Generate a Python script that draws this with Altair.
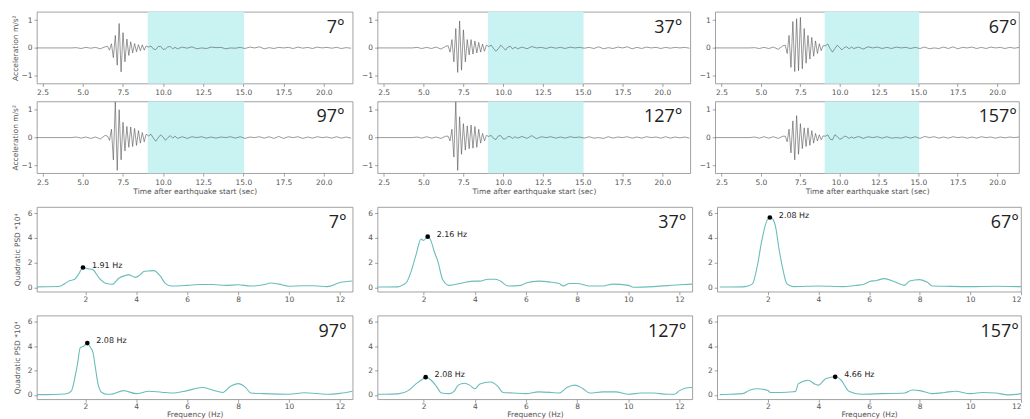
import altair as alt
import pandas as pd

# ---------------- seismogram data (time in s, acceleration in m/s^2) ----------------
T_PRE = [2.1, 4.3, 4.6, 4.9, 5.2, 5.5, 5.8, 6.1, 6.4]
T_BURST = [6.55, 6.67, 6.79, 6.91, 7.03, 7.15, 7.27, 7.39, 7.51, 7.63, 7.75, 7.87,
           7.99, 8.11, 8.23, 8.35, 8.47, 8.59, 8.71, 8.83, 8.95]
T_MID = [9.1, 9.25, 9.4, 9.55, 9.7, 9.85, 10.0, 10.15, 10.3, 10.45, 10.6, 10.75, 10.9]
T_TAIL = [11.2, 11.5, 11.8, 12.1, 12.4, 12.7, 13.0, 13.3, 13.6, 13.9, 14.2, 14.5,
          14.8, 15.1, 15.4, 15.7, 16.0, 16.3, 16.6, 16.9, 17.2, 17.5, 17.8, 18.1,
          18.4, 18.7, 19.0, 19.3, 19.6, 19.9, 20.2, 20.5, 20.8, 21.1, 21.4, 21.7]
TIME = T_PRE + T_BURST + T_MID + T_TAIL

ACC_7 = ([0, 0, 0.01, -0.02, 0.02, -0.01, 0.02, -0.03, 0.04]
         + [0.06, -0.08, 0.15, -0.35, 0.45, -0.62, 0.88, -0.86, 0.55, -0.5, 0.32, -0.27,
            0.22, -0.18, 0.16, -0.14, 0.12, -0.1, 0.11, -0.08, 0.07]
         + [0.03, 0.07, -0.04, -0.06, 0.05, 0.06, -0.05, -0.04, 0.04, 0.05, -0.03, 0.02, -0.03]
         + [0.03, -0.01, 0.04, -0.03, 0.0, -0.02, 0.03, 0.01, 0.02, -0.03, 0.0, -0.01,
            0.02, -0.02, 0.03, 0.0, 0.04, -0.03, 0.01, -0.02, 0.02, 0.0, 0.02, -0.02,
            0.03, -0.01, 0.02, -0.02, 0.03, 0.0, 0.02, -0.01, 0.02, -0.02, 0.01, -0.01])
ACC_37 = ([0, 0, 0.02, -0.02, 0.02, -0.02, 0.03, -0.04, 0.06]
          + [0.08, -0.15, 0.3, -0.5, 0.7, -0.88, 0.97, -0.8, 0.65, -0.5, 0.3, -0.25,
             0.3, -0.22, 0.25, -0.18, 0.2, -0.15, 0.14, -0.12, 0.1]
          + [0.05, 0.1, -0.02, -0.12, -0.03, 0.1, 0.02, -0.08, 0.03, 0.06, -0.04, 0.03, -0.03]
          + [0.03, -0.03, 0.05, 0.0, 0.02, -0.02, 0.03, -0.01, 0.02, -0.02, 0.03, 0.0,
             0.02, -0.01, 0.02, -0.02, 0.04, -0.03, 0.01, -0.02, 0.03, 0.0, 0.04, -0.03,
             0.02, -0.02, 0.03, 0.0, 0.02, -0.02, 0.02, -0.01, 0.02, 0.0, 0.02, -0.01])
ACC_67 = ([0, 0, 0.01, -0.02, 0.02, -0.02, 0.03, -0.05, 0.08]
          + [0.1, -0.2, 0.45, -0.7, 0.95, -0.85, 1.05, -0.82, 1.1, -0.75, 0.7, -0.55,
             0.45, -0.4, 0.38, -0.3, 0.25, -0.2, 0.15, -0.1, 0.08]
          + [0.08, 0.14, -0.03, -0.15, -0.02, 0.1, 0.01, -0.07, 0.02, 0.04, -0.03, 0.03, -0.02]
          + [0.03, -0.04, 0.04, 0.0, 0.03, -0.02, 0.02, -0.02, 0.03, 0.0, 0.02, -0.02,
             0.02, -0.02, 0.03, -0.03, 0.0, -0.02, 0.03, -0.02, 0.04, -0.03, 0.02, 0.0,
             0.03, -0.02, 0.02, -0.02, 0.03, 0.0, 0.02, -0.02, 0.02, -0.01, 0.02, -0.02])
ACC_97 = ([0, 0, 0.02, -0.02, 0.02, -0.03, 0.02, -0.05, 0.08]
          + [0.05, -0.1, 0.3, -0.8, 1.28, -1.18, 1.0, -0.8, 0.55, -0.48, 0.4, -0.35,
             0.38, -0.32, 0.33, -0.28, 0.25, -0.2, 0.18, -0.15, 0.12]
          + [0.06, 0.12, -0.02, -0.13, -0.01, 0.1, 0.02, -0.1, 0.0, 0.07, -0.02, 0.05, -0.03]
          + [0.03, -0.03, 0.03, 0.0, 0.03, -0.02, 0.02, -0.02, 0.02, 0.0, 0.03, -0.02,
             0.03, -0.03, 0.02, 0.0, 0.03, -0.02, 0.03, -0.03, 0.04, -0.03, 0.03, 0.0,
             0.03, -0.03, 0.02, -0.02, 0.03, 0.0, 0.02, -0.02, 0.03, -0.02, 0.02, -0.02])
ACC_127 = ([0, 0, 0.02, -0.02, 0.03, -0.02, 0.02, -0.03, 0.05]
           + [0.05, -0.12, 0.3, -0.7, 1.28, -1.18, 0.75, -0.6, 0.5, -0.45, 0.42, -0.4,
              0.45, -0.38, 0.4, -0.35, 0.3, -0.2, 0.15, -0.12, 0.08]
           + [0.04, 0.08, -0.03, -0.07, 0.06, 0.07, -0.05, -0.05, 0.04, 0.03, -0.03, 0.03, -0.02]
           + [0.04, -0.03, 0.07, -0.04, 0.03, 0.0, 0.03, -0.02, 0.02, -0.02, 0.03, 0.0,
              0.02, -0.02, 0.03, -0.02, 0.0, -0.03, 0.03, -0.02, 0.02, 0.0, 0.03, -0.02,
              0.02, -0.02, 0.03, 0.0, 0.02, -0.02, 0.03, -0.02, 0.02, -0.01, 0.02, -0.02])
ACC_157 = ([0, 0, 0.02, -0.02, 0.03, -0.02, 0.03, -0.03, 0.05]
           + [0.05, -0.15, 0.3, -0.55, 0.6, -0.8, 0.79, -0.6, 0.5, -0.4, 0.35, -0.32,
              0.35, -0.28, 0.25, -0.2, 0.15, -0.12, 0.1, -0.08, 0.06]
           + [0.05, 0.1, -0.06, -0.08, 0.1, 0.04, -0.06, -0.03, 0.05, 0.03, -0.03, 0.02, -0.02]
           + [0.04, -0.03, 0.03, 0.0, 0.03, -0.02, 0.03, -0.02, 0.0, -0.02, 0.03, -0.02,
              0.03, -0.03, 0.04, 0.0, 0.03, -0.02, 0.02, -0.02, 0.03, 0.0, 0.02, -0.02,
              0.02, -0.02, 0.03, 0.0, 0.02, -0.02, 0.02, -0.01, 0.02, 0.0, 0.02, -0.02])

SHADE_START = [9.05]
SHADE_END = [15.05]

# ---------------- PSD data (frequency in Hz, PSD *10^4) ----------------
F_7 = [0.1, 0.5, 1.0, 1.2, 1.38, 1.57, 1.75, 1.91, 2.1, 2.28, 2.55, 2.8, 3.06, 3.32, 3.5,
       3.71, 3.97, 4.15, 4.3, 4.5, 4.69, 4.95, 5.14, 5.4, 6.0, 6.5, 7.0, 7.5, 8.0, 8.5,
       9.0, 9.3, 9.6, 10.0, 10.5, 11.0, 11.5, 12.0, 12.5]
P_7 = [0.03, 0.04, 0.08, 0.3, 0.53, 0.62, 1.1, 1.6, 1.5, 1.45, 0.73, 0.32, 0.24, 0.73, 0.9,
       1.0, 0.8, 1.0, 1.27, 1.32, 1.35, 0.9, 0.32, 0.1, 0.15, 0.22, 0.22, 0.15, 0.2, 0.1,
       0.2, 0.35, 0.25, 0.08, 0.12, 0.12, 0.05, 0.38, 0.5]
F_37 = [0.1, 0.5, 1.0, 1.2, 1.35, 1.5, 1.7, 1.9, 2.0, 2.16, 2.3, 2.4, 2.56, 2.75, 3.0,
        3.5, 4.0, 4.2, 4.5, 4.8, 5.0, 5.3, 5.8, 6.0, 6.5, 7.0, 7.3, 7.45, 7.7, 8.0,
        8.5, 9.0, 9.4, 10.0, 10.2, 11.0, 12.0, 12.5]
P_37 = [0.02, 0.02, 0.03, 0.2, 0.45, 1.2, 2.6, 3.9, 3.8, 4.1, 3.7, 3.0, 2.08, 0.6, 0.15,
        0.35, 0.5, 0.5, 0.65, 0.65, 0.5, 0.1, 0.15, 0.35, 0.5, 0.4, 0.3, 0.1, 0.3, 0.3,
        0.1, 0.1, 0.25, 0.15, 0.0, 0.05, 0.2, 0.25]
F_67 = [0.1, 0.5, 1.0, 1.2, 1.4, 1.6, 1.75, 1.91, 2.08, 2.2, 2.3, 2.45, 2.6, 2.75, 3.0,
        4.0, 5.0, 5.5, 5.8, 6.0, 6.3, 6.6, 7.0, 7.4, 7.6, 8.0, 8.3, 8.5, 9.0, 10.0,
        11.0, 12.0, 12.5]
P_67 = [0.02, 0.02, 0.03, 0.1, 0.3, 1.9, 3.65, 5.1, 5.65, 5.5, 4.95, 3.0, 1.4, 0.3, 0.05,
        0.1, 0.05, 0.15, 0.25, 0.45, 0.55, 0.7, 0.45, 0.15, 0.5, 0.62, 0.4, 0.1, 0.08, 0.05,
        0.08, 0.05, 0.1]
F_97 = [0.1, 0.5, 1.0, 1.3, 1.45, 1.6, 1.7, 1.8, 1.95, 2.08, 2.2, 2.3, 2.4, 2.5, 2.65,
        2.85, 3.0, 3.5, 4.0, 4.5, 5.0, 5.5, 6.0, 6.6, 7.0, 7.4, 7.7, 8.0, 8.3, 8.5,
        9.0, 10.0, 10.6, 11.5, 12.0, 12.5]
P_97 = [0.02, 0.02, 0.05, 0.12, 0.3, 1.5, 2.6, 3.85, 4.0, 4.25, 3.9, 3.5, 2.2, 0.9, 0.2,
        0.05, 0.05, 0.35, 0.1, 0.3, 0.22, 0.15, 0.35, 0.6, 0.4, 0.2, 0.7, 0.92, 0.6, 0.15,
        0.1, 0.05, 0.18, 0.05, 0.12, 0.3]
F_127 = [0.1, 0.5, 1.0, 1.4, 1.7, 2.0, 2.08, 2.3, 2.5, 2.7, 3.0, 3.2, 3.35, 3.6, 3.8,
         4.0, 4.2, 4.6, 4.9, 5.1, 5.5, 6.0, 6.5, 7.0, 7.3, 7.6, 7.9, 8.2, 8.5, 9.0,
         9.5, 10.0, 10.5, 11.0, 11.5, 11.8, 12.0, 12.4, 12.5]
P_127 = [0.05, 0.05, 0.08, 0.35, 0.9, 1.35, 1.45, 1.2, 0.7, 0.15, 0.1, 0.3, 0.8, 0.95, 0.8,
         0.5, 0.9, 1.05, 0.7, 0.2, 0.15, 0.1, 0.25, 0.2, 0.15, 0.6, 0.8, 0.55, 0.15, 0.25,
         0.25, 0.05, 0.15, 0.15, 0.05, 0.05, 0.35, 0.6, 0.6]
F_157 = [0.1, 0.5, 1.0, 1.3, 1.6, 2.0, 2.1, 2.5, 3.0, 3.1, 3.2, 3.6, 3.85, 4.0, 4.3,
         4.66, 4.9, 5.2, 5.7, 6.5, 7.4, 7.7, 8.0, 8.5, 9.0, 9.4, 10.0, 10.5, 11.0, 11.5,
         12.0, 12.5]
P_157 = [0.02, 0.05, 0.1, 0.4, 0.5, 0.35, 0.2, 0.2, 0.25, 0.3, 0.9, 1.2, 0.9, 0.8, 1.35,
         1.48, 1.2, 0.3, 0.05, 0.1, 0.15, 0.4, 0.35, 0.1, 0.2, 0.3, 0.1, 0.2, 0.15, 0.0,
         0.1, 0.6]

ANGLES = ["7°", "37°", "67°", "97°", "127°", "157°"]
PEAK_F = [1.91, 2.16, 2.08, 2.08, 2.08, 4.66]
PEAK_P = [1.6, 4.1, 5.65, 4.25, 1.45, 1.48]
PEAK_LABELS = ["1.91 Hz", "2.16 Hz", "2.08 Hz", "2.08 Hz", "2.08 Hz", "4.66 Hz"]

T_TICKS = [2.5, 5.0, 7.5, 10.0, 12.5, 15.0, 17.5, 20.0]
A_TICKS = [-1, 0, 1]
F_TICKS = [2, 4, 6, 8, 10, 12]
P_TICKS = [0, 2, 4, 6]

# visible axis ranges of the three columns
T_DOMAINS = [[2.15, 21.8], [2.12, 21.75], [2.1, 21.39]]
F_DOMAINS = [[0.1, 12.5], [0.2, 12.5], [0.0, 12.0]]

for a in [ACC_7, ACC_37, ACC_67, ACC_97, ACC_127, ACC_157]:
    assert len(a) == len(TIME), len(a)
for f, p in [(F_7, P_7), (F_37, P_37), (F_67, P_67), (F_97, P_97), (F_127, P_127), (F_157, P_157)]:
    assert len(f) == len(p), (len(f), len(p))

SHADE_COLOR = "#c9f3f3"
SEIS_COLOR = "#555555"
PSD_COLOR = "#6cbcbc"
ANGLE_FONT = "Open Sans"

SEIS_W = [317, 314, 305]
PSD_W = [317, 316, 305]
GAP = 25


def angle_layer(label, width, inset):
    return alt.Chart(pd.DataFrame({"lab": [label]})).mark_text(
        align="right", baseline="alphabetic", fontSize=18, font=ANGLE_FONT,
        fontWeight="normal", color="#222222"
    ).encode(x=alt.value(width - inset), y=alt.value(21), text="lab:N")


def seis_panel(idx, acc, col, ytitle, xtitle):
    width = SEIS_W[col]
    df = pd.DataFrame({"t": TIME, "a": acc})
    xs = alt.Scale(domain=T_DOMAINS[col], nice=False, zero=False)
    ys = alt.Scale(domain=[-1.28, 1.3], nice=False, zero=False)
    xaxis = alt.Axis(values=T_TICKS, format=".1f", title=xtitle, labelFlush=False,
                     minExtent=14, maxExtent=14, titlePadding=0)
    yaxis = alt.Axis(values=A_TICKS, format="d", title=ytitle, labelFlush=False,
                     minExtent=16, maxExtent=16, titlePadding=1)
    shade = alt.Chart(pd.DataFrame({"s": SHADE_START, "e": SHADE_END})).mark_rect(
        color=SHADE_COLOR
    ).encode(x=alt.X("s:Q", scale=xs, axis=xaxis), x2="e:Q")
    line = alt.Chart(df).mark_line(color=SEIS_COLOR, strokeWidth=0.6, clip=True).encode(
        x=alt.X("t:Q", scale=xs, axis=xaxis),
        y=alt.Y("a:Q", scale=ys, axis=yaxis),
    )
    inset = 2 if col == 2 else 8
    return alt.layer(shade, line, angle_layer(ANGLES[idx], width, inset)).properties(
        width=width, height=72)


def psd_panel(idx, f, p, col, height, ytitle, xtitle):
    width = PSD_W[col]
    df = pd.DataFrame({"f": f, "p": p})
    pk = pd.DataFrame({"f": [PEAK_F[idx]], "p": [PEAK_P[idx]], "lab": [PEAK_LABELS[idx]]})
    xs = alt.Scale(domain=F_DOMAINS[col], nice=False, zero=False)
    ys = alt.Scale(domain=[-0.36, 6.5], nice=False, zero=False)
    xaxis = alt.Axis(values=F_TICKS, format="d", title=xtitle, labelFlush=(col == 2),
                     labelPadding=0.5, minExtent=11, maxExtent=11, titlePadding=0)
    yaxis = alt.Axis(values=P_TICKS, format="d", title=ytitle, labelFlush=False,
                     minExtent=10, maxExtent=10, titlePadding=5)
    enc = dict(x=alt.X("f:Q", scale=xs, axis=xaxis), y=alt.Y("p:Q", scale=ys, axis=yaxis))
    line = alt.Chart(df).mark_line(color=PSD_COLOR, strokeWidth=1.1, interpolate="monotone",
                                   clip=True).encode(**enc)
    dot = alt.Chart(pk).mark_circle(size=22, color="black", opacity=1).encode(**enc)
    txt = alt.Chart(pk).mark_text(align="left", baseline="middle", dx=9, dy=-2, fontSize=8,
                                  font="DejaVu Sans", color="#222222").encode(text="lab:N", **enc)
    inset = 2 if col == 2 else 6
    return alt.layer(line, dot, txt, angle_layer(ANGLES[idx], width, inset)).properties(
        width=width, height=height)


ACC_T = "Acceleration m/s²"
PSD_T = "Quadratic PSD *10⁴"
TIME_T = "Time after earthquake start (sec)"
FREQ_T = "Frequency (Hz)"

row1 = alt.hconcat(
    seis_panel(0, ACC_7, 0, ACC_T, None),
    seis_panel(1, ACC_37, 1, None, None),
    seis_panel(2, ACC_67, 2, None, None),
    spacing=GAP, bounds="flush")
row2 = alt.hconcat(
    seis_panel(3, ACC_97, 0, ACC_T, TIME_T),
    seis_panel(4, ACC_127, 1, None, TIME_T),
    seis_panel(5, ACC_157, 2, None, TIME_T),
    spacing=GAP, bounds="flush")
row3 = alt.hconcat(
    psd_panel(0, F_7, P_7, 0, 85, PSD_T, None),
    psd_panel(1, F_37, P_37, 1, 85, None, None),
    psd_panel(2, F_67, P_67, 2, 85, None, None),
    spacing=GAP, bounds="flush")
row4 = alt.hconcat(
    psd_panel(3, F_97, P_97, 0, 84, PSD_T, FREQ_T),
    psd_panel(4, F_127, P_127, 1, 84, None, FREQ_T),
    psd_panel(5, F_157, P_157, 2, 84, None, FREQ_T),
    spacing=GAP, bounds="flush")

chart = alt.vconcat(
    alt.vconcat(row1, row2, spacing=2),
    alt.vconcat(row3, row4, spacing=11),
    spacing=11,
).properties(
    padding={"left": 3, "top": 2, "right": 0, "bottom": 0}
).configure_view(
    stroke="#8a8a8a", strokeWidth=0.8
).configure_axis(
    domain=False, grid=False, labelFontSize=7.5, labelColor="#555555",
    labelFont="DejaVu Sans", tickColor="#666666", tickSize=3, tickWidth=0.6,
    labelPadding=2, titleFont="DejaVu Sans", titleFontSize=7.5, titleColor="#555555",
    titleFontWeight="normal"
)

chart.save("out.html", embed_options={"renderer": "svg", "actions": False})
